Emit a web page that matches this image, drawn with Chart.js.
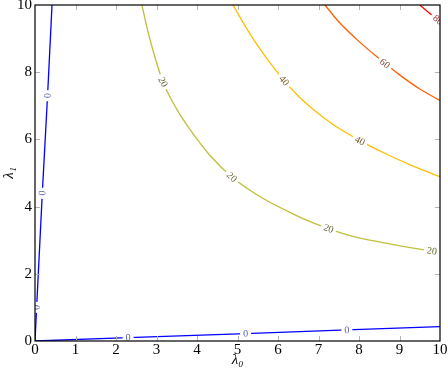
<!DOCTYPE html>
<html>
<head>
<meta charset="utf-8">
<script src="https://cdn.jsdelivr.net/npm/chart.js@4.4.0/dist/chart.umd.min.js"></script>
<style>
  html, body { margin: 0; padding: 0; background: #fff; }
  #wrap { width: 448px; height: 372px; }
</style>
</head>
<body>
<div id="wrap"><canvas id="contour-chart"></canvas></div>
<script>
// contour lines, [lambda0, lambda1]
const zeroSteep = [[0, 0], [0.04, 1.0], [0.18, 4.4], [0.31, 7.3], [0.42, 10]];
const zeroFlat = [[0, 0], [2.3, 0.1], [5.2, 0.22], [7.7, 0.33], [10, 0.43]];
const level20 = [[2.64, 10], [2.77, 9.3], [2.91, 8.66], [3.16, 7.71], [3.5, 6.9], [3.8, 6.34],
    [4.3, 5.55], [4.86, 4.88], [5.55, 4.3], [6.34, 3.8], [6.9, 3.5], [7.71, 3.16],
    [8.66, 2.91], [9.3, 2.77], [10, 2.65]];
const level40 = [[4.89, 10], [5.2, 9.35], [5.55, 8.7], [5.98, 8.0], [6.45, 7.35], [6.88, 6.88],
    [7.35, 6.45], [8.0, 5.98], [8.7, 5.55], [9.35, 5.2], [10, 4.89]];
const level60 = [[7.16, 10], [7.5, 9.5], [7.95, 8.97], [8.45, 8.45], [8.97, 7.95], [9.5, 7.5], [10, 7.16]];
const level80 = [[9.5, 10], [9.75, 9.75], [10, 9.5]];

// where the inline level labels sit
const zeroSteepLabels = [[0.04, 1.0], [0.18, 4.4], [0.31, 7.3]];
const zeroFlatLabels = [[2.3, 0.1], [5.2, 0.22], [7.7, 0.33]];
const level20Labels = [[3.16, 7.71], [4.86, 4.88], [7.25, 3.35], [9.8, 2.68]];
const level40Labels = [[6.15, 7.75], [8.02, 5.96]];
const level60Labels = [[8.64, 8.26]];
const level80Labels = [[9.95, 9.56]];

const xTicks = [0, 1, 2, 3, 4, 5, 6, 7, 8, 9, 10];
const yTicks = [0, 2, 4, 6, 8, 10];

const SERIF = '"Liberation Serif", "DejaVu Serif", serif';

function toPoints(pairs) {
    return pairs.map(([x, y]) => ({ x, y }));
}

function contourDataset(pairs, labelPairs, level, color, textColor, smooth) {
    return {
        data: toPoints(pairs),
        showLine: true,
        borderColor: color,
        borderWidth: 1.3,
        pointRadius: 0,
        tension: smooth ? 0.4 : 0,
        cubicInterpolationMode: smooth ? 'monotone' : 'default',
        clip: 0,
        level: String(level),
        labelAt: labelPairs,
        labelColor: textColor
    };
}

// text labels along each contour, with a white gap under them
const contourLabels = {
    id: 'contourLabels',
    afterDatasetsDraw(chart) {
        const { ctx, chartArea: area, scales: { x, y } } = chart;
        ctx.save();
        ctx.beginPath();
        ctx.rect(area.left, area.top, area.right - area.left, area.bottom - area.top);
        ctx.clip();
        ctx.font = `10px ${SERIF}`;
        ctx.textAlign = 'center';
        ctx.textBaseline = 'middle';
        chart.data.datasets.forEach((ds) => {
            const pts = ds.data.map((p) => [x.getPixelForValue(p.x), y.getPixelForValue(p.y)]);
            ds.labelAt.forEach(([lx, ly]) => {
                const px = x.getPixelForValue(lx);
                const py = y.getPixelForValue(ly);
                let best = 0;
                let bestDist = Infinity;
                for (let i = 0; i < pts.length - 1; i += 1) {
                    const mx = (pts[i][0] + pts[i + 1][0]) / 2;
                    const my = (pts[i][1] + pts[i + 1][1]) / 2;
                    const d = (mx - px) ** 2 + (my - py) ** 2;
                    if (d < bestDist) {
                        bestDist = d;
                        best = i;
                    }
                }
                let angle = Math.atan2(pts[best + 1][1] - pts[best][1], pts[best + 1][0] - pts[best][0]);
                if (angle > Math.PI / 2) angle -= Math.PI;
                if (angle < -Math.PI / 2) angle += Math.PI;
                const w = ctx.measureText(ds.level).width;
                ctx.save();
                ctx.translate(px, py);
                ctx.rotate(angle);
                ctx.fillStyle = '#ffffff';
                ctx.fillRect(-w / 2 - 3, -5, w + 6, 10);
                ctx.fillStyle = ds.labelColor;
                ctx.fillText(ds.level, 0, 0.5);
                ctx.restore();
            });
        });
        ctx.restore();
    }
};

// box frame with short grey ticks pointing inwards on all four sides
const frameTicks = {
    id: 'frameTicks',
    afterDraw(chart) {
        const { ctx, chartArea: area, scales: { x, y } } = chart;
        const len = 5;
        ctx.save();
        ctx.strokeStyle = '#b4b4b4';
        ctx.lineWidth = 1;
        ctx.beginPath();
        xTicks.slice(1, -1).forEach((v) => {
            const px = Math.round(x.getPixelForValue(v)) + 0.5;
            ctx.moveTo(px, area.bottom);
            ctx.lineTo(px, area.bottom - len);
            ctx.moveTo(px, area.top);
            ctx.lineTo(px, area.top + len);
        });
        yTicks.slice(1, -1).forEach((v) => {
            const py = Math.round(y.getPixelForValue(v)) + 0.5;
            ctx.moveTo(area.left, py);
            ctx.lineTo(area.left + len, py);
            ctx.moveTo(area.right, py);
            ctx.lineTo(area.right - len, py);
        });
        ctx.stroke();
        ctx.strokeStyle = '#000000';
        ctx.lineWidth = 1.2;
        ctx.strokeRect(area.left, area.top, area.right - area.left, area.bottom - area.top);
        ctx.restore();
    }
};

const ctx = document.getElementById('contour-chart').getContext('2d');

new Chart(ctx, {
    type: 'scatter',
    data: {
        datasets: [
            contourDataset(zeroSteep, zeroSteepLabels, 0, '#0000ff', '#5560b0', false),
            contourDataset(zeroFlat, zeroFlatLabels, 0, '#0000ff', '#5560b0', false),
            contourDataset(level20, level20Labels, 20, '#bfbf3c', '#6b6b3a', true),
            contourDataset(level40, level40Labels, 40, '#ffbf00', '#7a6030', true),
            contourDataset(level60, level60Labels, 60, '#ff6000', '#7a4030', true),
            contourDataset(level80, level80Labels, 80, '#ff0000', '#902828', true)
        ]
    },
    options: {
        responsive: true,
        maintainAspectRatio: false,
        animation: false,
        layout: {
            padding: { top: 5, right: 8, left: 0, bottom: 0 }
        },
        plugins: {
            legend: { display: false },
            tooltip: { enabled: false }
        },
        scales: {
            x: {
                type: 'linear',
                min: 0,
                max: 10,
                afterBuildTicks: (scale) => {
                    scale.ticks = xTicks.map((value) => ({ value }));
                },
                afterFit: (scale) => {
                    scale.height = 31;
                    scale.paddingLeft = 0;
                    scale.paddingRight = 0;
                },
                grid: { display: false, drawTicks: false },
                border: { display: false },
                ticks: {
                    color: '#000',
                    padding: 0,
                    maxRotation: 0,
                    font: { family: SERIF, size: 15 }
                },
                title: {
                    display: true,
                    text: 'λ₀',
                    color: '#000',
                    padding: { top: 0, bottom: 3 },
                    font: { family: SERIF, size: 15, style: 'italic' }
                }
            },
            y: {
                type: 'linear',
                min: 0,
                max: 10,
                afterBuildTicks: (scale) => {
                    scale.ticks = yTicks.map((value) => ({ value }));
                },
                afterFit: (scale) => {
                    scale.width = 35;
                    scale.paddingTop = 0;
                    scale.paddingBottom = 0;
                },
                grid: { display: false, drawTicks: false },
                border: { display: false },
                ticks: {
                    color: '#000',
                    padding: 3,
                    font: { family: SERIF, size: 15 }
                },
                title: {
                    display: true,
                    text: 'λ₁',
                    color: '#000',
                    padding: { top: 0, bottom: 0 },
                    font: { family: SERIF, size: 15, style: 'italic' }
                }
            }
        }
    },
    plugins: [contourLabels, frameTicks]
});
</script>
</body>
</html>
